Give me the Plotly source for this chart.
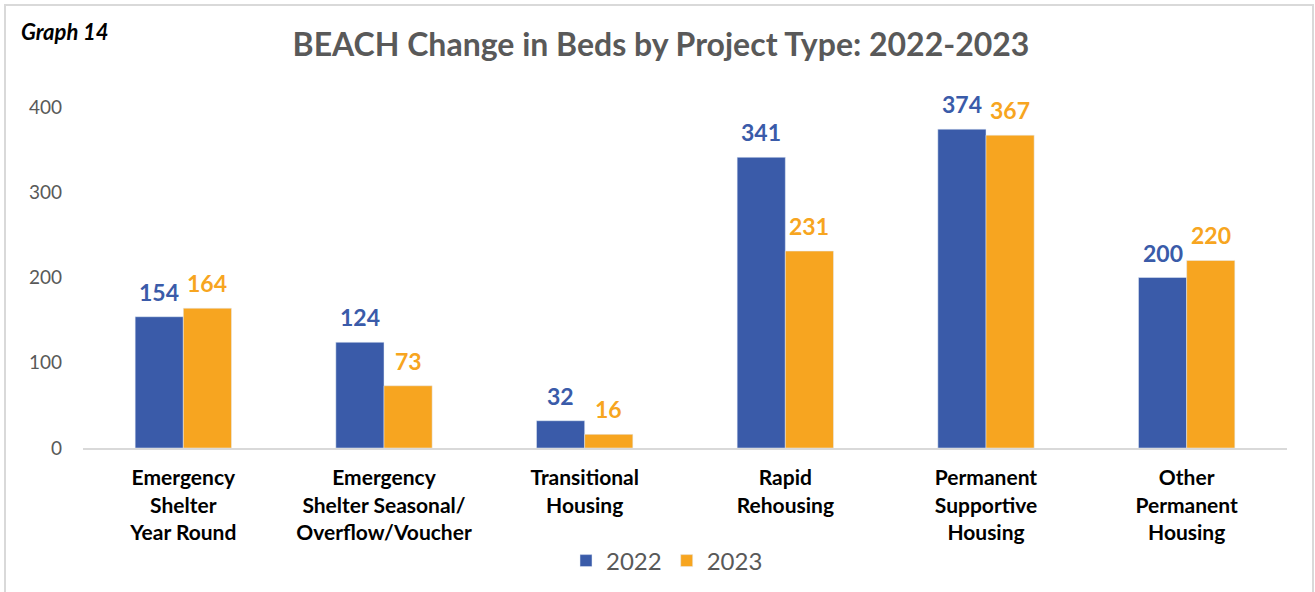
import plotly.graph_objects as go

# Bed counts by project type
categories = [
    "Emergency<br>Shelter<br>Year Round",
    "Emergency<br>Shelter Seasonal/<br>Overflow/Voucher",
    "Transitional<br>Housing",
    "Rapid<br>Rehousing",
    "Permanent<br>Supportive<br>Housing",
    "Other<br>Permanent<br>Housing",
]
beds_2022 = [154, 124, 32, 341, 374, 200]
beds_2023 = [164, 73, 16, 231, 367, 220]
y_ticks = [0, 100, 200, 300, 400]

BLUE = "#3A5BA9"
ORANGE = "#F7A520"
GRAY = "#595959"
FONT = "Lato, 'Open Sans', sans-serif"

TOP, BOTTOM, LEFT, RIGHT = 107, 144, 83, 28
PLOT_W = 1315 - LEFT - RIGHT
PLOT_H = 592 - TOP - BOTTOM


def px_x(px):
    return (px - LEFT) / PLOT_W


def px_y(py):
    return (592 - BOTTOM - py) / PLOT_H


fig = go.Figure()
fig.add_trace(go.Bar(name="2022", x=categories, y=beds_2022, marker_color=BLUE))
fig.add_trace(go.Bar(name="2023", x=categories, y=beds_2023, marker_color=ORANGE))

# Value labels above each bar
annotations = []
for series, color, shift in ((beds_2022, BLUE, -24), (beds_2023, ORANGE, 24)):
    for cat, val in zip(categories, series):
        annotations.append(dict(
            x=cat, y=val, xref="x", yref="y", text=f"<b>{val}</b>",
            showarrow=False, xshift=shift, yshift=25, yanchor="middle",
            font=dict(family=FONT, size=23, color=color),
        ))

annotations.append(dict(
    text="<b><i>Graph 14</i></b>", xref="paper", yref="paper",
    x=px_x(19), y=px_y(32), xanchor="left", yanchor="middle", showarrow=False,
    font=dict(family=FONT, size=22, color="black"),
))

fig.update_layout(
    width=1315, height=592,
    margin=dict(l=LEFT, r=RIGHT, t=TOP, b=BOTTOM, autoexpand=False),
    paper_bgcolor="white", plot_bgcolor="white",
    barmode="group", bargap=0.52, bargroupgap=0,
    title=dict(
        text="<b>BEACH Change in Beds by Project Type: 2022-2023</b>",
        x=px_x(661), xref="paper", xanchor="center",
        y=1 - 45 / 592, yanchor="middle",
        font=dict(family=FONT, size=32, color=GRAY),
    ),
    font=dict(family=FONT),
    showlegend=True,
    legend=dict(
        orientation="h", x=px_x(667), xanchor="center", y=px_y(561), yanchor="middle",
        font=dict(family=FONT, size=24, color=GRAY),
        itemwidth=30, traceorder="normal",
    ),
    annotations=annotations,
    shapes=[dict(
        type="rect", xref="paper", yref="paper",
        x0=px_x(5), x1=px_x(1313), y0=px_y(640), y1=px_y(5),
        line=dict(color="#D9D9D9", width=2), fillcolor="rgba(0,0,0,0)",
        layer="below",
    )],
)

fig.update_xaxes(
    showline=True, linecolor="#D9D9D9", linewidth=2, automargin=False,
    showgrid=False, ticks="", ticklabelstandoff=10,
    tickvals=categories, ticktext=[f"<b>{c}</b>" for c in categories],
    tickfont=dict(family=FONT, size=21, color="black"),
)
fig.update_yaxes(
    range=[0, 400], tickvals=y_ticks, showgrid=False, zeroline=False,
    showline=False, ticks="", ticklabelstandoff=20, automargin=False,
    tickfont=dict(family=FONT, size=19, color=GRAY),
)

fig.write_html("out.html")
